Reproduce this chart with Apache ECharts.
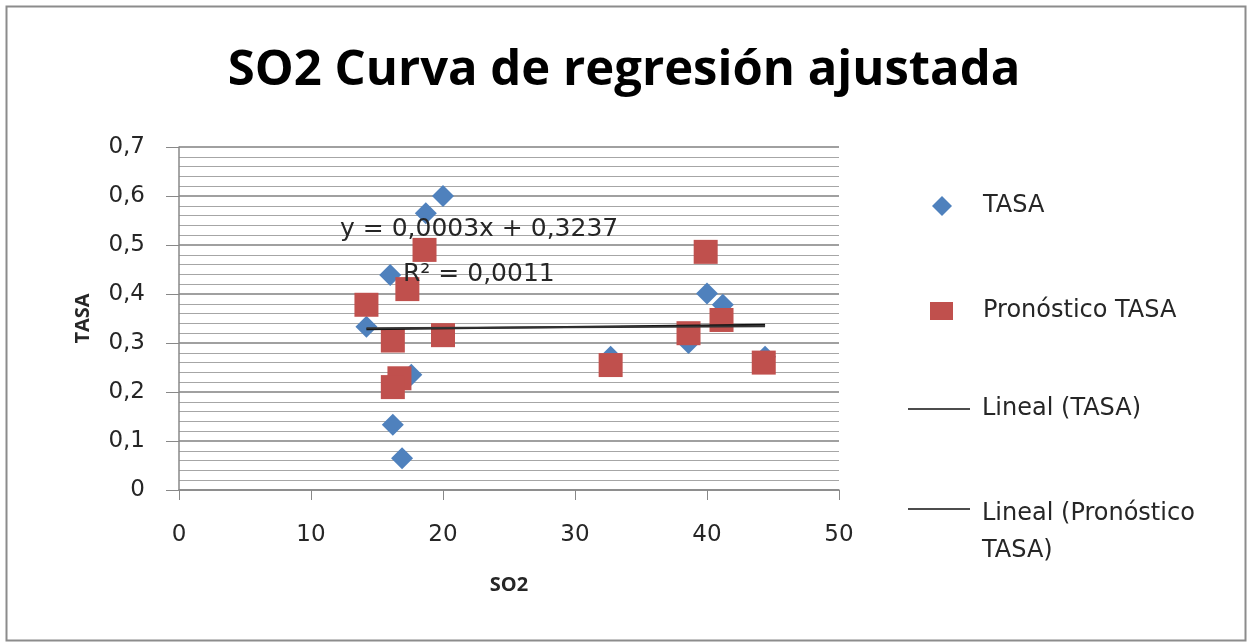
<!DOCTYPE html>
<html>
<head>
<meta charset="utf-8">
<script src="https://cdn.jsdelivr.net/npm/echarts@6/dist/echarts.min.js"></script>
<style>
  html, body { margin: 0; padding: 0; background: #fff; }
  #chart { width: 1248px; height: 643px; }
</style>
</head>
<body>
<div id="chart"></div>
<script>
// datos
var tasaX = [20.0, 18.7, 16.0, 14.2, 17.6, 16.2, 16.9, 40.0, 41.2, 38.6, 32.7, 44.4];
var tasaY = [0.600, 0.565, 0.439, 0.333, 0.235, 0.133, 0.065, 0.401, 0.378, 0.300, 0.272, 0.272];
var pronX = [18.6, 17.3, 14.2, 16.2, 20.0, 16.7, 16.2, 39.9, 41.1, 38.6, 32.7, 44.3];
var pronY = [0.490, 0.410, 0.378, 0.305, 0.316, 0.228, 0.210, 0.486, 0.347, 0.320, 0.255, 0.260];
var trendTasa = [[14.2, 0.328], [44.4, 0.337]];
var trendPron = [[14.2, 0.330], [44.4, 0.334]];
var xTicks = [0, 10, 20, 30, 40, 50];
var yTicks = [0, 0.1, 0.2, 0.3, 0.4, 0.5, 0.6, 0.7];

function pairs(xs, ys) {
  var out = []
  for (var i = 0; i < xs.length; i++) out.push([xs[i], ys[i]])
  return out
}

var titleFont = '"Open Sans", "Noto Sans", sans-serif'
var font = '"DejaVu Sans", "Noto Sans", sans-serif'
var txt = '#262626'
var lineIcon = 'path://M0,14 L62,14 L62,15.5 L0,15.5 Z'
var myChart = echarts.init(document.getElementById('chart'))
var option = {
  backgroundColor: '#fff',
  animation: false,
  title: {
    text: 'SO2 Curva de regresión ajustada',
    left: 619, top: 42, textAlign: 'center',
    textStyle: { fontFamily: titleFont, fontSize: 49, fontWeight: 'bold', color: '#000' }
  },
  grid: { left: 179, right: 409, top: 147, bottom: 153 },
  xAxis: {
    type: 'value', min: xTicks[0], max: xTicks[xTicks.length - 1], interval: 10,
    name: 'SO2', nameLocation: 'middle', nameGap: 85,
    nameTextStyle: { fontFamily: titleFont, fontSize: 20, fontWeight: 'bold', color: txt },
    axisLine: { lineStyle: { color: '#888', width: 1.5 } },
    axisTick: { show: true, length: 10, lineStyle: { color: '#888' } },
    axisLabel: { fontFamily: font, fontSize: 23, color: txt, margin: 34 },
    splitLine: { show: false }
  },
  yAxis: {
    type: 'value', min: yTicks[0], max: yTicks[yTicks.length - 1], interval: 0.1,
    name: 'TASA', nameLocation: 'middle', nameGap: 86, nameRotate: 90,
    nameTextStyle: { fontFamily: titleFont, fontSize: 20, fontWeight: 'bold', color: txt },
    axisLine: { show: true, lineStyle: { color: '#888', width: 1.5 } },
    axisTick: { show: true, length: 13, lineStyle: { color: '#888' } },
    axisLabel: {
      fontFamily: font, fontSize: 23, color: txt, margin: 34,
      formatter: function (v) { return String(Math.round(v * 10) / 10).replace('.', ',') }
    },
    splitLine: { show: true, lineStyle: { color: '#808080', width: 1.5 } },
    minorTick: { show: false, splitNumber: 5 },
    minorSplitLine: { show: true, lineStyle: { color: '#a6a6a6', width: 1 } }
  },
  legend: [
    {
      left: 927, top: 189, itemWidth: 20, itemHeight: 20,
      data: [{ name: 'TASA', icon: 'diamond' }],
      textStyle: { fontFamily: font, fontSize: 24, color: txt, padding: [0, 0, 0, 26] }
    },
    {
      left: 925, top: 294, itemWidth: 23, itemHeight: 18,
      data: [{ name: 'Pronóstico TASA', icon: 'rect' }],
      textStyle: { fontFamily: font, fontSize: 24, color: txt, padding: [0, 0, 0, 25] }
    },
    {
      left: 903, top: 392, itemWidth: 62, itemHeight: 28,
      data: [{ name: 'Lineal (TASA)', icon: lineIcon }],
      textStyle: { fontFamily: font, fontSize: 24, color: txt, padding: [0, 0, 0, 7] }
    },
    {
      left: 903, top: 455, itemWidth: 62, itemHeight: 28,
      data: [{ name: 'Lineal (Pronóstico TASA)', icon: lineIcon }],
      formatter: function () { return '{s| }\n{a|Lineal (Pronóstico}\n{a|TASA)}' },
      textStyle: {
        fontFamily: font, fontSize: 24, color: txt, padding: [0, 0, 0, 7],
        rich: {
          s: { fontFamily: font, fontSize: 24, lineHeight: 47 },
          a: { fontFamily: font, fontSize: 24, color: txt, lineHeight: 37 }
        }
      }
    }
  ],
  graphic: [
    {
      type: 'rect', left: 4, top: 4, silent: true,
      shape: { width: 1239, height: 634 },
      style: { fill: null, stroke: '#8c8c8c', lineWidth: 2 }
    },
    {
      type: 'text', left: 340, top: 217, z: 10,
      style: { text: 'y = 0,0003x + 0,3237', font: '25px ' + font, fill: txt }
    },
    {
      type: 'text', left: 403, top: 262, z: 10,
      style: { text: 'R² = 0,0011', font: '25px ' + font, fill: txt }
    }
  ],
  series: [
    {
      name: 'TASA', type: 'scatter', symbol: 'diamond', symbolSize: 22,
      itemStyle: { color: '#4F81BD', opacity: 1 },
      data: pairs(tasaX, tasaY), z: 2
    },
    {
      name: 'Pronóstico TASA', type: 'scatter', symbol: 'rect', symbolSize: 24,
      itemStyle: { color: '#C0504D', opacity: 1 },
      data: pairs(pronX, pronY), z: 3
    },
    {
      name: 'Lineal (TASA)', type: 'line', showSymbol: false, symbol: 'none',
      itemStyle: { color: '#111' },
      lineStyle: { color: '#111', width: 2 },
      data: trendTasa, z: 4
    },
    {
      name: 'Lineal (Pronóstico TASA)', type: 'line', showSymbol: false, symbol: 'none',
      itemStyle: { color: '#111' },
      lineStyle: { color: '#333', width: 2 },
      data: trendPron, z: 4
    }
  ]
}
myChart.setOption(option)
</script>
</body>
</html>
